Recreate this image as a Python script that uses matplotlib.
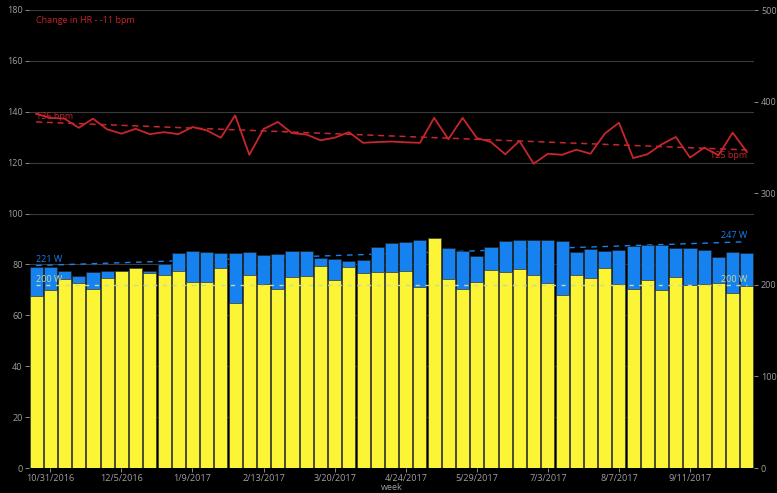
import numpy as np
import matplotlib
matplotlib.use("Agg")
import matplotlib.pyplot as plt
import pandas as pd

plt.rcParams['font.family'] = ['Open Sans', 'DejaVu Sans']

# ----------------------------------------------------------------------------
# Data, one entry per week starting 10/24/2016
# ----------------------------------------------------------------------------
weeks = pd.date_range("2016-10-24", periods=51, freq="7D")

# normalized power (blue), in left-axis units (scaled 180 -> 500 W)
blue_left = [79, 79, 77.6, 75.6, 77, 77.3, 77.5, 78.7, 77.3, 80.1,
             84.5, 85.3, 85, 84.5, 84.5, 84.8, 83.9, 84.3, 85.2, 85.2,
             82.4, 82, 81.2, 81.7, 86.8, 88.5, 88.8, 89.7, 90.5, 86.4,
             85.1, 83.4, 86.7, 89.2, 89.7, 89.8, 89.8, 89.4, 84.7, 86.2,
             85.2, 85.6, 87.3, 87.6, 87.7, 86.3, 86.3, 85.8, 83.1, 84.8, 84.6]
# average power (yellow)
yellow_left = [67.7, 70, 74.3, 72.7, 70.4, 74.5, 77.5, 78.7, 76.7, 76,
               77.5, 73, 73, 78.5, 64.8, 76, 72.5, 70.5, 75, 75.3,
               79.3, 73.7, 78.8, 76.8, 77, 76.9, 77.6, 71.3, 90.5, 74.4,
               70.3, 73.2, 78, 77.2, 78.2, 75.9, 72.7, 67.8, 76, 74.5,
               78.7, 72.4, 70.4, 73.8, 69.9, 75, 71.9, 72.3, 72.9, 68.7, 71.6]
heart_rate = [139.2, 137.6, 137.3, 133.7, 137.3, 133.1, 131.4, 133.3, 131.2, 132,
              131.2, 134, 132.7, 129.8, 138.6, 123.1, 133.2, 136, 131.6, 131.1,
              128.8, 129.8, 132, 127.8, 128.1, 128.3, 128, 127.8, 137.6, 129.2,
              137.6, 129.7, 128.1, 123.3, 128.5, 119.6, 123.5, 123.1, 125.1, 123.5,
              131.4, 135.7, 121.8, 123.3, 127.2, 130.1, 122, 125.9, 122.9, 131.8, 124.2]

hr_trend = [136, 125]       # bpm, first / last week
np_trend = [221, 247]       # W
ap_trend = [200, 200]       # W

W_SCALE = 500 / 180

RED = '#c8262c'
BLUE = '#1682f0'
YELLOW = '#fcf535'
PALE = '#c9d99a'
TXT = '#a0a0a0'

fig = plt.figure(figsize=(7.77, 4.93), dpi=100, facecolor='black')
ax = fig.add_axes([29 / 777, 25 / 493, 725 / 777, 458 / 493])
ax.set_facecolor('black')
x = np.arange(len(weeks))

ax.set_xlim(-0.5, len(weeks) - 0.5)
ax.set_ylim(0, 180)
ax.set_yticks(range(0, 181, 20))
ax.grid(axis='y', color='#3a3a3a', linewidth=0.8, zorder=0)
ax.set_axisbelow(True)

# trend line for blue drawn behind the bars
ax.plot([x[0], x[-1]], [v / W_SCALE for v in np_trend], color=BLUE,
        ls=(0, (4, 4)), lw=1, zorder=1)
ax.bar(x, blue_left, width=0.92, color=BLUE, edgecolor='#222222', linewidth=0.5, zorder=2)
ax.bar(x, yellow_left, width=0.92, color=YELLOW, edgecolor='#333333', linewidth=0.5, zorder=3)
ax.plot([x[0], x[-1]], [v / W_SCALE for v in ap_trend], color=PALE,
        ls=(0, (3, 4)), lw=1, zorder=4)

ax.plot(x, heart_rate, color=RED, lw=1.3, zorder=5)
ax.plot([x[0], x[-1]], hr_trend, color=RED, ls=(0, (4, 3)), lw=1.1, zorder=5)

# annotations
ax.text(0, 176, f"Change in HR - {hr_trend[1] - hr_trend[0]} bpm", color=RED,
        fontsize=6.5, va='center')
ax.text(0, hr_trend[0] + 0.3, f"{hr_trend[0]} bpm", color=RED, fontsize=6.5, va='bottom')
ax.text(x[-1], hr_trend[1] - 0.5, f"{hr_trend[1]} bpm", color=RED, fontsize=6.5, va='top', ha='right')
ax.text(0, np_trend[0] / W_SCALE + 0.5, f"{np_trend[0]} W", color=BLUE, fontsize=6.5, va='bottom')
ax.text(x[-1], np_trend[1] / W_SCALE + 0.5, f"{np_trend[1]} W", color=BLUE, fontsize=6.5, va='bottom', ha='right')
ax.text(0, ap_trend[0] / W_SCALE + 0.3, f"{ap_trend[0]} W", color=PALE, fontsize=6.5, va='bottom')
ax.text(x[-1], ap_trend[1] / W_SCALE + 0.3, f"{ap_trend[1]} W", color=PALE, fontsize=6.5, va='bottom', ha='right')

# x axis
tick_idx = list(range(1, len(weeks), 5))
ax.set_xticks(tick_idx)
ax.set_xticklabels([f"{d.month}/{d.day}/{d.year}" for d in weeks[tick_idx]])
ax.set_xlabel('week', color=TXT, fontsize=6.5, labelpad=0)

for s in ax.spines.values():
    s.set_visible(False)
ax.tick_params(colors=TXT, labelsize=6.5, length=3, width=0.6, pad=1.5)

# right axis in watts
ax2 = ax.twinx()
ax2.set_ylim(0, 500)
ax2.set_yticks(range(0, 501, 100))
for s in ax2.spines.values():
    s.set_visible(False)
ax2.tick_params(colors=TXT, labelsize=6.5, length=3, width=0.6, pad=2)

fig.savefig('out.png', dpi=100, facecolor='black')
